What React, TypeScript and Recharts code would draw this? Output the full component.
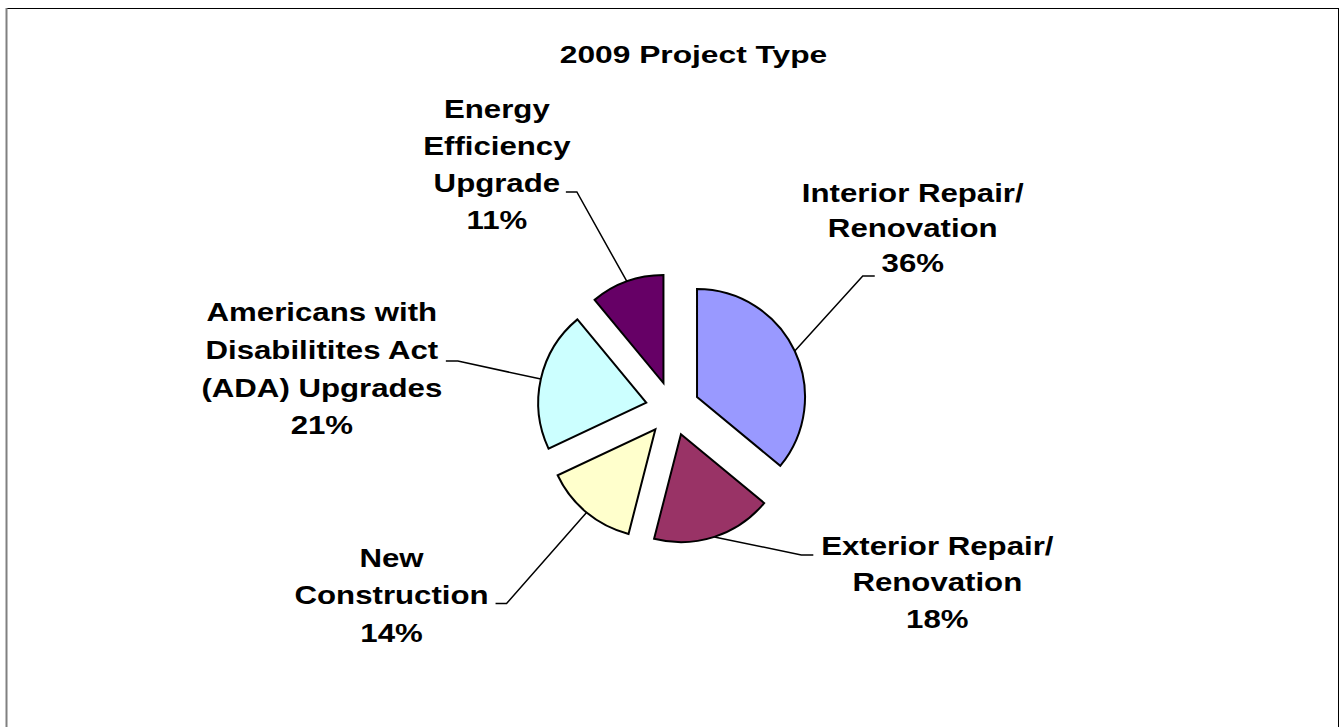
import { PieChart, Pie, Cell } from "recharts"

// Chart data
const categories = [
  "Interior Repair/ Renovation",
  "Exterior Repair/ Renovation",
  "New Construction",
  "Americans with Disabilitites Act (ADA) Upgrades",
  "Energy Efficiency Upgrade",
]
const values = [36, 18, 14, 21, 11]
const labelLines = [
  ["Interior Repair/", "Renovation"],
  ["Exterior Repair/", "Renovation"],
  ["New", "Construction"],
  ["Americans with", "Disabilitites Act", "(ADA) Upgrades"],
  ["Energy", "Efficiency", "Upgrade"],
]
const COLORS = ["#9999FF", "#993366", "#FFFFCC", "#CCFFFF", "#660066"]

// Layout
const CX = 672.6
const CY = 408.5
const RADIUS = 108
const EXPLODE = 27
const FONT = '"Liberation Sans", Arial, sans-serif'
const LABEL_SCALE_X = 1.2

// leader bend / text position relative to the slice's outer edge point
const LABEL_LAYOUT = [
  { bend: [68, -75], tick: 12, text: [118, -149], lineHeight: 35 },
  { bend: [87, 18], tick: 12, text: [223, 18], lineHeight: 36.5 },
  { bend: [-80, 91], tick: -11, text: [-195, 54], lineHeight: 37.5 },
  { bend: [-83, -18], tick: -12, text: [-219, -58], lineHeight: 37.8 },
  { bend: [-50, -89.5], tick: -11, text: [-130, -163.5], lineHeight: 37 },
]

const data = categories.map((name, i) => ({ name, value: values[i] }))
const total = values.reduce((a, b) => a + b, 0)

// offset of each exploded slice along its bisector (clockwise from 12 o'clock)
const offsets = values.map((v, i) => {
  const before = values.slice(0, i).reduce((a, b) => a + b, 0)
  const theta = ((before + v / 2) / total) * Math.PI * 2
  return [EXPLODE * Math.sin(theta), -EXPLODE * Math.cos(theta)]
})

function renderLabel(props: any, slice: number) {
  const { cx, cy, midAngle, outerRadius, index, percent } = props
  if (index !== slice) return null
  const rad = (-midAngle * Math.PI) / 180
  const ex = cx + outerRadius * Math.cos(rad)
  const ey = cy + outerRadius * Math.sin(rad)
  const layout = LABEL_LAYOUT[slice]
  const bx = ex + layout.bend[0]
  const by = ey + layout.bend[1]
  const lines = [...labelLines[slice], `${Math.round(percent * 100)}%`]
  return (
    <g key={`label-${slice}`}>
      <polyline
        points={`${ex},${ey} ${bx},${by} ${bx + layout.tick},${by}`}
        fill="none"
        stroke="#000"
        strokeWidth={1.5}
      />
      <text
        transform={`translate(${ex + layout.text[0]},${ey + layout.text[1]}) scale(${LABEL_SCALE_X},1)`}
        textAnchor="middle"
        fontFamily={FONT}
        fontWeight="bold"
        fontSize={26}
        fill="#000"
      >
        {lines.map((line, k) => (
          <tspan key={k} x={0} y={k * layout.lineHeight}>
            {line}
          </tspan>
        ))}
      </text>
    </g>
  )
}

export default function App() {
  return (
    <div style={{ position: "absolute", left: 0, top: 0 }}>
      <PieChart width={1344} height={727} margin={{ top: 0, right: 0, bottom: 0, left: 0 }}>
        <line x1={6} y1={8.5} x2={1339} y2={8.5} stroke="#000" strokeWidth={1} />
        <line x1={6.5} y1={8} x2={6.5} y2={727} stroke="#808080" strokeWidth={2} />
        <line x1={1338.5} y1={8} x2={1338.5} y2={727} stroke="#000" strokeWidth={1} />
        <text
          transform="translate(693.5,63) scale(1.38,1)"
          textAnchor="middle"
          fontFamily={FONT}
          fontWeight="bold"
          fontSize={23}
          fill="#000"
        >
          2009 Project Type
        </text>
        {data.map((_, i) => (
          <Pie
            key={`pie-${i}`}
            data={data}
            dataKey="value"
            nameKey="name"
            cx={CX + offsets[i][0]}
            cy={CY + offsets[i][1]}
            outerRadius={RADIUS}
            startAngle={90}
            endAngle={-270}
            isAnimationActive={false}
            labelLine={false}
            label={(p: any) => renderLabel(p, i)}
          >
            {data.map((entry, j) => (
              <Cell
                key={`cell-${j}`}
                fill={j === i ? COLORS[j] : "none"}
                stroke={j === i ? "#000" : "none"}
                strokeWidth={2}
              />
            ))}
          </Pie>
        ))}
      </PieChart>
    </div>
  )
}
